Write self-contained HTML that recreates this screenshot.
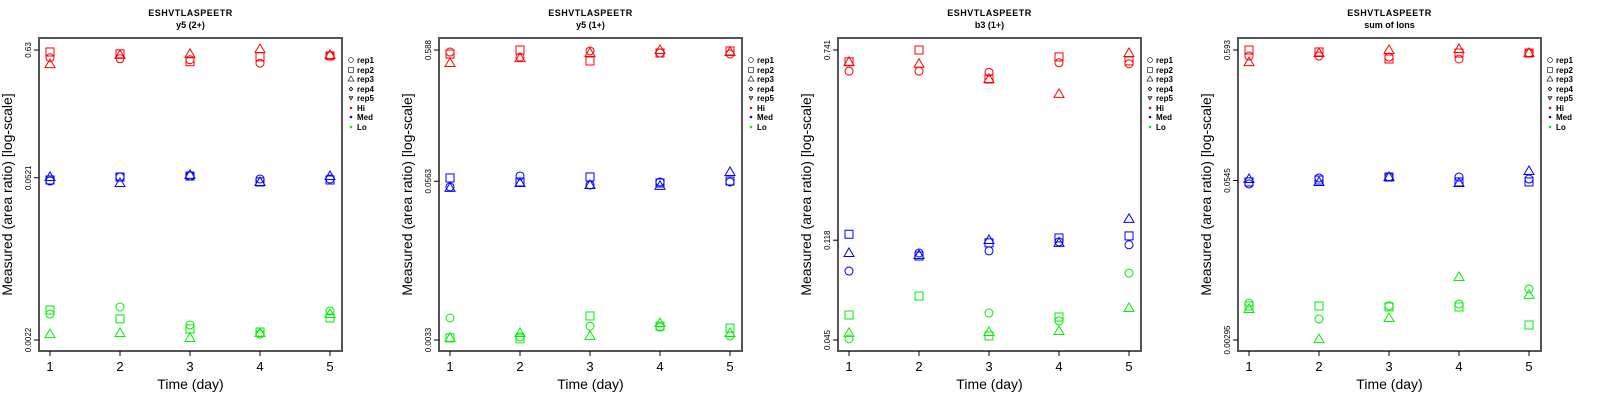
<!DOCTYPE html>
<html><head><meta charset="utf-8"><style>
body{margin:0;background:#fff;}
svg{display:block;font-family:"Liberation Sans",sans-serif;}
</style></head><body>
<svg id="chart" width="1600" height="400" viewBox="0 0 1600 400"></svg>
<script>
const days = [1,2,3,4,5];
const groups = ["Hi","Med","Lo"];
const reps = ["rep1","rep2","rep3"];
const panelTitles = ["y5 (2+)","y5 (1+)","b3 (1+)","sum of Ions"];
const peptide = "ESHVTLASPEETR";
const tickValues = [[0.63,0.0521,0.0022],[0.588,0.0563,0.0033],[0.741,0.118,0.045],[0.593,0.0545,0.00295]];
const tickLabels = [["0.63","0.0521","0.0022"],["0.588","0.0563","0.0033"],["0.741","0.118","0.045"],["0.593","0.0545","0.00295"]];
// values[panel][group][rep][day]
const p1Hi  = [[0.541,0.531,0.521,0.487,0.562],[0.606,0.584,0.501,0.552,0.562],[0.478,0.573,0.584,0.642,0.573]];
const p1Med = [[0.0489,0.0529,0.0539,0.0509,0.0509],[0.0499,0.0529,0.0539,0.0480,0.0499],[0.0529,0.0470,0.0551,0.0480,0.0539]];
const p1Lo  = [[0.00365,0.00419,0.00295,0.00247,0.00387],[0.00395,0.00332,0.00273,0.00257,0.00338],[0.00247,0.00252,0.00229,0.00252,0.00365]];
const p2Hi  = [[0.567,0.518,0.578,0.557,0.547],[0.547,0.588,0.483,0.557,0.578],[0.466,0.509,0.557,0.588,0.567]];
const p2Med = [[0.0509,0.0619,0.0527,0.0556,0.0556],[0.0597,0.0556,0.0608,0.0546,0.0566],[0.0500,0.0546,0.0527,0.0518,0.0665]];
const p2Lo  = [[0.00489,0.00349,0.00423,0.00416,0.00355],[0.00343,0.00337,0.00507,0.00423,0.00408],[0.00343,0.00374,0.00355,0.00447,0.00374]];
const p3Hi  = [[0.604,0.604,0.598,0.655,0.649],[0.661,0.741,0.560,0.693,0.667],[0.661,0.649,0.560,0.485,0.720]];
const p3Med = [[0.0876,0.1043,0.1064,0.1161,0.1129],[0.125,0.1013,0.1150,0.1206,0.123],[0.1043,0.1023,0.1183,0.1150,0.145]];
const p3Lo  = [[0.0455,null,0.0584,0.0541,0.0859],[0.0573,0.0688,0.0468,0.0562,null],[0.0482,null,0.0486,0.0491,0.0613]];
const p4Hi  = [[0.531,0.531,0.521,0.503,0.561],[0.593,0.572,0.503,0.561,0.561],[0.475,0.561,0.593,0.604,0.561]];
const p4Med = [[0.0512,0.0571,0.0581,0.0581,0.0560],[0.0531,0.0550,0.0581,0.0531,0.0531],[0.0560,0.0531,0.0581,0.0521,0.0649]];
const p4Lo  = [[0.00580,0.00433,0.00550,0.00570,0.00750],[0.00550,0.00550,0.00540,0.00540,0.00388],[0.00520,0.00300,0.00441,0.00934,0.00673]];
const panelData = [[p1Hi,p1Med,p1Lo],[p2Hi,p2Med,p2Lo],[p3Hi,p3Med,p3Lo],[p4Hi,p4Med,p4Lo]];

const colors = {Hi:"#ff0000",Med:"#0000ff",Lo:"#00ee00"};
const NS="http://www.w3.org/2000/svg";
const svg=document.getElementById('chart');
function mk(tag,attrs,parent){const e=document.createElementNS(NS,tag);for(const k in attrs)e.setAttribute(k,attrs[k]);(parent||svg).appendChild(e);return e;}
const offsets=[0,400,799,1199];
const boxL=39,boxR=342,boxT=38,boxB=351,yTop=50,yBot=340,x1=50,xStep=70;

function drawMarker(g,shape,cx,cy,col){
  let e;
  if(shape===0){e=mk('circle',{cx:cx,cy:cy,r:4,fill:'none',stroke:col,'stroke-width':1},g);}
  else if(shape===1){e=mk('rect',{x:cx-4,y:cy-4,width:8,height:8,fill:'none',stroke:col,'stroke-width':1},g);}
  else if(shape===2){e=mk('polygon',{points:`${cx},${cy-5} ${cx-5},${cy+3.5} ${cx+5},${cy+3.5}`,fill:'none',stroke:col,'stroke-width':1},g);}
  else if(shape===3){e=mk('polygon',{points:`${cx},${cy-3} ${cx+3},${cy} ${cx},${cy+3} ${cx-3},${cy}`,fill:'none',stroke:col,'stroke-width':1.3},g);}
  else {e=mk('polygon',{points:`${cx},${cy+3} ${cx-3},${cy-2} ${cx+3},${cy-2}`,fill:'none',stroke:col,'stroke-width':1.3},g);}
  return e;
}

panelData.forEach((pd,pi)=>{
  const ox=offsets[pi];
  const g=mk('g',{transform:`translate(${ox},0)`});
  
  
  const tv=tickValues[pi];
  const lt=Math.log(tv[0]),lb=Math.log(tv[2]);
  const yScale=v=>yTop+(Math.log(v)-lt)/(lb-lt)*(yBot-yTop);
  const xScale=d=>x1+(d-1)*xStep;
  const cx=(boxL+boxR)/2;
  let t=mk('text',{x:cx,y:16,'text-anchor':'middle','font-size':9,'font-weight':'bold','letter-spacing':'0.5'},g);t.textContent=peptide;
  
  t=mk('text',{x:cx,y:28,'text-anchor':'middle','font-size':9,'font-weight':'bold'},g);t.textContent=panelTitles[pi];
  
  const box=mk('rect',{x:boxL,y:boxT,width:boxR-boxL,height:boxB-boxT,fill:'none',stroke:'#555','stroke-width':2},g);
  
  tv.forEach((v,i)=>{
    const y=yScale(v);
    mk('line',{x1:boxL-5,x2:boxL,y1:y,y2:y,stroke:'#000'},g);
    const tl=mk('text',{x:0,y:0,transform:`translate(31,${y}) rotate(-90)`,'text-anchor':'middle','font-size':8},g);
    tl.textContent=tickLabels[pi][i];
    
  });
  days.forEach(d=>{
    const x=xScale(d);
    mk('line',{x1:x,x2:x,y1:boxB,y2:boxB+5,stroke:'#000'},g);
    const tl=mk('text',{x:x,y:371,'text-anchor':'middle','font-size':13},g);tl.textContent=d;
    
  });
  t=mk('text',{x:cx,y:389,'text-anchor':'middle','font-size':14},g);t.textContent='Time (day)';
  
  t=mk('text',{x:0,y:0,transform:`translate(12,${(boxT+boxB)/2}) rotate(-90)`,'text-anchor':'middle','font-size':14},g);t.textContent='Measured (area ratio) [log-scale]';
  
  pd.forEach((gvals,gi)=>{
    const col=colors[groups[gi]];
    gvals.forEach((rv,ri)=>{
      rv.forEach((v,di)=>{
        if(v==null)return;
        const m=drawMarker(g,ri,xScale(days[di]),yScale(v),col);
        
        
      });
    });
  });
  const lg=mk('g',{},g);
  
  const legLabels=["rep1","rep2","rep3","rep4","rep5","Hi","Med","Lo"];
  const legY=[60,70,79,89,98,108,117,127];
  legLabels.forEach((lab,i)=>{
    const y=legY[i];
    if(i<5){drawMarker(lg,i,351,y,'#000').setAttribute('transform',`translate(351,${y}) scale(0.6) translate(-351,${-y})`);}
    else{mk('circle',{cx:351,cy:y,r:1.3,fill:colors[lab]},lg);}
    const tt=mk('text',{x:357,y:y+3,'font-size':8,'font-weight':'bold'},lg);tt.textContent=lab;
    
  });
});
</script>
</body></html>
